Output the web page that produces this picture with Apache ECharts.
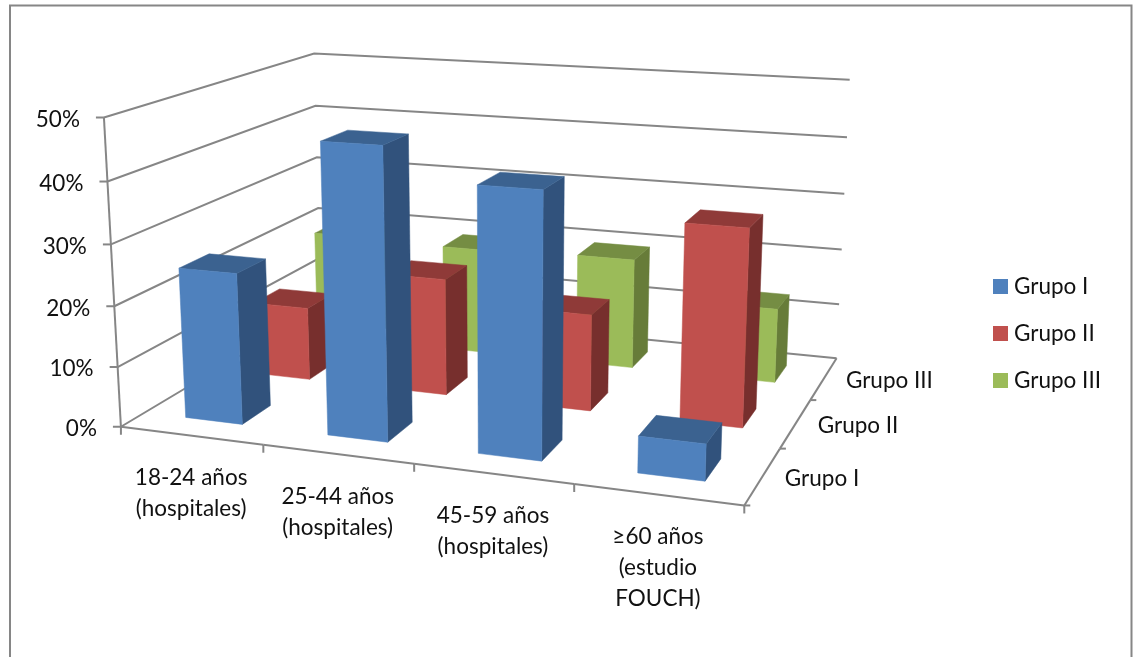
<!DOCTYPE html>
<html>
<head>
<meta charset="utf-8">
<style>html,body{margin:0;padding:0;background:#fff}#chart{width:1140px;height:657px}</style>
<script src="https://cdn.jsdelivr.net/npm/echarts@6/dist/echarts.min.js"></script>
</head>
<body>
<div id="chart"></div>
<script>
// Chart values
const categories = ['18-24 años\n(hospitales)', '25-44 años\n(hospitales)', '45-59 años\n(hospitales)', '≥60 años\n(estudio\nFOUCH)'];
const groups = ['Grupo I', 'Grupo II', 'Grupo III'];
const valueTicks = [0, 10, 20, 30, 40, 50];
const grupoI = [25, 47, 42, 5.8];
const grupoII = [12.7, 20, 16.3, 32.7];
const grupoIII = [19.5, 19, 19.5, 13];

// Per-group shades: front face, right face, top face
const shades = [
  ['#4F81BD', '#31527C', '#3B6290'],
  ['#C0504D', '#772F2D', '#8F3A38'],
  ['#9BBB59', '#677C39', '#758D43']
];
const axisGrey = '#868686';
const font = '22.5px Lato, sans-serif';
const barWidth = 0.405, barDepth = 0.4;

// Camera: world (column, depth, percent) to page, solved from reference points of the box
const anchors = [
  [0, 0, 0, 120, 426], [1, 0, 0, 263, 445], [2, 0, 0, 414, 464], [4, 0, 0, 744, 505],
  [4, 1, 0, 780, 449], [4, 2, 0, 812, 400], [4, 3, 0, 835, 358], [0, 3, 0, 322, 308],
  [0, 0, 50, 105, 118], [0, 3, 50, 313, 53], [4, 3, 50, 850, 80]
];
function solveCamera(points) {
  const n = 11, ata = Array.from({length: n}, () => new Array(n + 1).fill(0));
  const add = (row, rhs) => {
    for (let i = 0; i < n; i++) {
      for (let j = 0; j < n; j++) ata[i][j] += row[i] * row[j];
      ata[i][n] += row[i] * rhs;
    }
  };
  points.forEach(([x, z, v, u, w]) => {
    const y = v / 50;
    add([x, y, z, 1, 0, 0, 0, 0, -u * x, -u * y, -u * z], u);
    add([0, 0, 0, 0, x, y, z, 1, -w * x, -w * y, -w * z], w);
  });
  for (let c = 0; c < n; c++) {
    let best = c;
    for (let r = c + 1; r < n; r++) if (Math.abs(ata[r][c]) > Math.abs(ata[best][c])) best = r;
    [ata[c], ata[best]] = [ata[best], ata[c]];
    for (let r = 0; r < n; r++) {
      if (r === c) continue;
      const f = ata[r][c] / ata[c][c];
      for (let k = c; k <= n; k++) ata[r][k] -= f * ata[c][k];
    }
  }
  return ata.map((row, i) => row[n] / row[i]);
}
const cam = solveCamera(anchors);

// Takes a point through the grid's axes, then through the camera
function projector(params, api) {
  const r = params.coordSys;
  return (x, z, v) => {
    const c = api.coord([x, v]);
    const X = (c[0] - r.x) / r.width * 4;
    const Y = (r.y + r.height - c[1]) / r.height;
    const d = cam[8] * X + cam[9] * Y + cam[10] * z + 1;
    return [
      (cam[0] * X + cam[1] * Y + cam[2] * z + cam[3]) / d,
      (cam[4] * X + cam[5] * Y + cam[6] * z + cam[7]) / d
    ];
  };
}
const polyline = (points) => ({
  type: 'polyline', shape: {points}, style: {stroke: axisGrey, lineWidth: 2, fill: null}, silent: true
});
const label = (text, x, y, align, verticalAlign) => ({
  type: 'text', silent: true,
  style: {text, x, y, align, verticalAlign, font, fill: '#111', lineHeight: 31}
});

function barSeries(name, values, depthIndex) {
  const [front, side, top] = shades[depthIndex];
  return {
    name, type: 'custom', coordinateSystem: 'cartesian2d', z: 5 - depthIndex,
    itemStyle: {color: front}, clip: false,
    encode: {x: 0, y: 1},
    data: values.map((v, i) => [i, v]),
    renderItem(params, api) {
      const p = projector(params, api);
      const x0 = api.value(0) + 0.5 - barWidth / 2, x1 = x0 + barWidth;
      const z0 = depthIndex + 0.5 - barDepth / 2, z1 = z0 + barDepth;
      const v = api.value(1);
      const face = (pts, fill) => ({
        type: 'polygon', shape: {points: pts}, style: {fill, stroke: fill, lineWidth: 0.5}
      });
      return {type: 'group', children: [
        face([p(x1, z0, 0), p(x1, z1, 0), p(x1, z1, v), p(x1, z0, v)], side),
        face([p(x0, z0, v), p(x1, z0, v), p(x1, z1, v), p(x0, z1, v)], top),
        face([p(x0, z0, 0), p(x1, z0, 0), p(x1, z0, v), p(x0, z0, v)], front)
      ]};
    }
  };
}

// Walls: one gridline per percent tick, plus the vertical axis and its labels
const wallSeries = {
  type: 'custom', z: 1, clip: false, silent: true,
  data: valueTicks.map(v => [0, v]),
  encode: {x: 0, y: 1},
  renderItem(params, api) {
    const p = projector(params, api);
    const v = api.value(1);
    const a = p(0, 0, v);
    const children = [
      polyline([a, p(0, 3, v), p(4, 3, v)]),
      polyline([[a[0] - 8, a[1]], a]),
      label(v + '%', a[0] - 24, a[1] + 2, 'right', 'middle')
    ];
    if (v === 0) children.push(polyline([a, p(0, 0, valueTicks[valueTicks.length - 1])]));
    return {type: 'group', children};
  }
};

// Front floor edge with the age-range labels
const categorySeries = {
  type: 'custom', z: 1, clip: false, silent: true,
  data: categories.map((c, i) => [i, 0]),
  encode: {x: 0, y: 1},
  renderItem(params, api) {
    const p = projector(params, api);
    const i = api.value(0);
    const l = p(i, 0, 0), r = p(i + 1, 0, 0), m = p(i + 0.5, 0, 0);
    const children = [
      polyline([l, r]),
      polyline([r, [r[0], r[1] + 8]]),
      label(categories[i], m[0], m[1] + 27, 'center', 'top')
    ];
    if (i === 0) children.push(polyline([l, [l[0], l[1] + 8]]));
    return {type: 'group', children};
  }
};

// Right floor edge with the group labels
const depthSeries = {
  type: 'custom', z: 1, clip: false, silent: true,
  data: groups.map((g, i) => [4, i]),
  encode: {x: 0, y: 1},
  renderItem(params, api) {
    const p = projector(params, api);
    const i = params.dataIndex;
    const a = p(4, i, 0), b = p(4, i + 1, 0), m = p(4, i + 0.5, 0);
    return {type: 'group', children: [
      polyline([a, b]),
      polyline([a, [a[0] + 6, a[1]]]),
      label(groups[i], m[0] + 22, m[1] + 2.5, 'left', 'middle')
    ]};
  }
};

const chart = echarts.init(document.getElementById('chart'), null, {renderer: 'canvas'});
chart.setOption({
  animation: false,
  backgroundColor: '#fff',
  graphic: [{
    type: 'rect', silent: true, z: 0,
    shape: {x: 10, y: 5.5, width: 1121.5, height: 670},
    style: {fill: '#fff', stroke: axisGrey, lineWidth: 2}
  }],
  grid: {left: 120, top: 118, width: 625, height: 309},
  xAxis: {type: 'value', min: 0, max: 4, show: false},
  yAxis: {type: 'value', min: 0, max: 50, interval: 10, show: false},
  legend: {
    data: groups, orient: 'vertical', left: 988, top: 270,
    itemWidth: 15, itemHeight: 15, itemGap: 24, icon: 'rect', selectedMode: false,
    textStyle: {fontFamily: 'Lato, sans-serif', fontSize: 22.5, color: '#111', padding: [0, 0, 0, 1]}
  },
  series: [
    wallSeries, categorySeries, depthSeries,
    barSeries(groups[2], grupoIII, 2),
    barSeries(groups[1], grupoII, 1),
    barSeries(groups[0], grupoI, 0)
  ]
});
</script>
</body>
</html>
